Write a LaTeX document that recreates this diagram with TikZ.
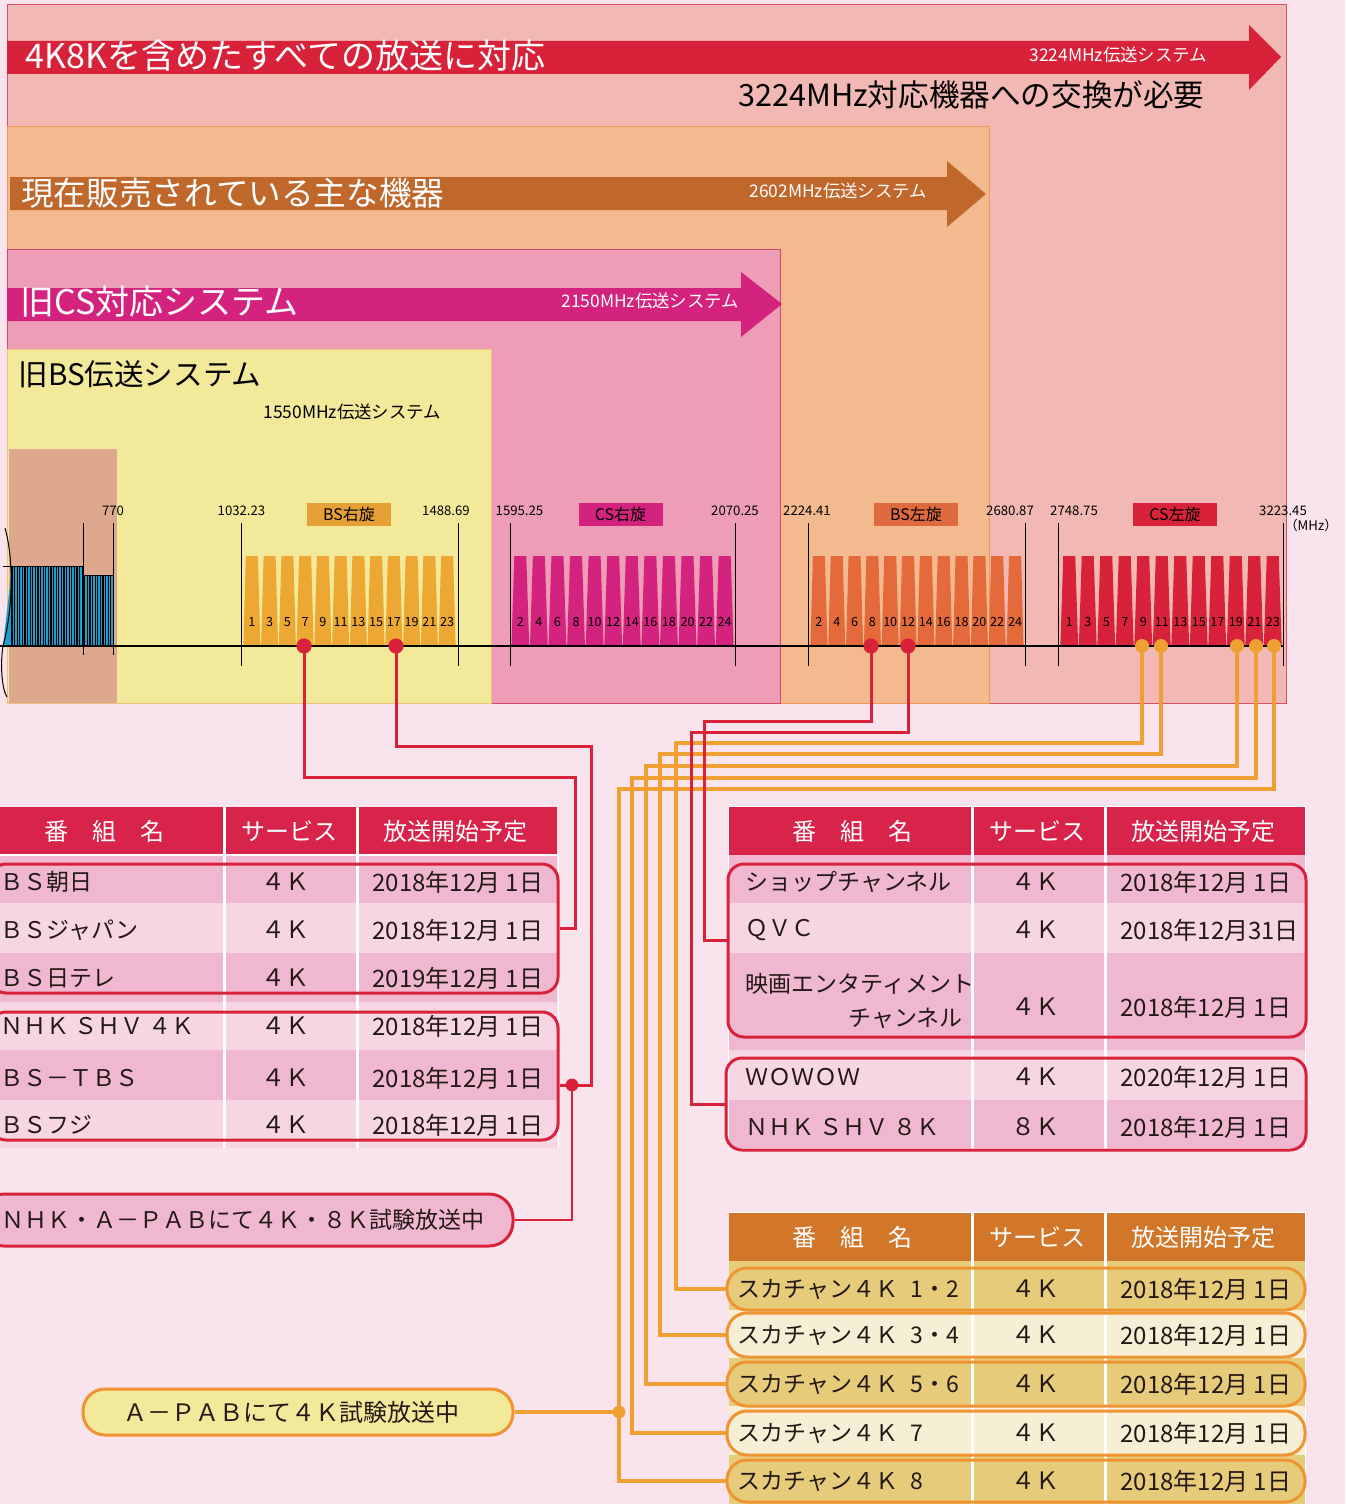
\documentclass[tikz,border=0pt]{standalone}
\usepackage{fontspec}
\setmainfont{Noto Sans CJK JP}
\usetikzlibrary{fit,calc}
\definecolor{bgp}{HTML}{F9E3EC}
\definecolor{outerf}{HTML}{F2B8B4}
\definecolor{outerd}{HTML}{D4506E}
\definecolor{orgf}{HTML}{F2BA8E}
\definecolor{orgd}{HTML}{EE9A55}
\definecolor{pinkf}{HTML}{ED9DB5}
\definecolor{pinkd}{HTML}{D84566}
\definecolor{yelf}{HTML}{F2EA9A}
\definecolor{yeld}{HTML}{ECC47C}
\definecolor{brnf}{HTML}{DEA88E}
\definecolor{redA}{HTML}{D8223A}
\definecolor{brnA}{HTML}{C0672C}
\definecolor{magA}{HTML}{D4237F}
\definecolor{bsrC}{HTML}{EDA733}
\definecolor{bsrL}{HTML}{E6A035}
\definecolor{bslC}{HTML}{E46A3C}
\definecolor{bslL}{HTML}{E06A40}
\definecolor{blueC}{HTML}{1E9FD0}
\definecolor{hdrR}{HTML}{D8234A}
\definecolor{hdrO}{HTML}{D2762A}
\definecolor{rowD}{HTML}{F0B8D0}
\definecolor{rowL}{HTML}{F7D6E3}
\definecolor{rowG}{HTML}{E5CB7A}
\definecolor{rowC}{HTML}{F7EFD5}
\definecolor{conO}{HTML}{EEA033}
\definecolor{pillO}{HTML}{EE9433}
\definecolor{inkK}{HTML}{231815}
\begin{document}
\begin{tikzpicture}[x=0.5pt,y=-0.5pt,
  every node/.style={inner sep=0pt, text=inkK},
  headW/.style={font=\fontsize{17}{17}\selectfont, text=white, anchor=west},
  headK/.style={font=\fontsize{15.3}{15.3}\selectfont, text=black, anchor=west},
  subW/.style={font=\fontsize{8.7}{8.7}\selectfont, text=white, anchor=west},
  subK/.style={font=\fontsize{8.7}{8.7}\selectfont, text=black, anchor=west},
  freq/.style={font=\fontsize{6.6}{6.6}\selectfont, text=black},
  chnum/.style={font=\fontsize{6.3}{6.3}\selectfont, text=black},
  bandlbl/.style={font=\fontsize{8}{8}\selectfont, text=black, minimum width=42pt, minimum height=11.5pt},
  hdr/.style={font=\fontsize{12}{12}\selectfont, text=white},
  tname/.style={font=\fontsize{11.5}{11.5}\selectfont, anchor=west},
  tdate/.style={font=\fontsize{12}{12}\selectfont, anchor=west},
  tsvc/.style={font=\fontsize{12}{12}\selectfont},
  grpR/.style={draw=redA, line width=1.5pt, rounded corners=8pt, inner sep=0pt},
  grpO/.style={draw=pillO, line width=1.5pt, rounded corners=10pt, inner sep=0pt},
  rline/.style={draw=redA, line width=1.5pt},
  rthin/.style={draw=redA, line width=0.8pt},
  oline/.style={draw=conO, line width=1.7pt},
  sep/.style={draw=white, line width=1.5pt},
  tick/.style={draw=black, line width=0.5pt}
]
\useasboundingbox (0,0) rectangle (1345,1504);
\fill[bgp] (0,0) rectangle (1345,1504);

% ---------- nested system boxes ----------
\filldraw[fill=outerf, draw=outerd, line width=0.5pt] (7,5) rectangle (1286,703);
\filldraw[fill=orgf, draw=orgd, line width=0.5pt] (7,127) rectangle (989,703);
\filldraw[fill=pinkf, draw=pinkd, line width=0.5pt] (7,249) rectangle (780,703);
\filldraw[fill=yelf, draw=yeld, line width=0.5pt] (7,349) rectangle (491,703);
\fill[brnf] (9,449) rectangle (117,703);

% ---------- arrows ----------
\fill[redA] (7,41) -- (1249,41) -- (1249,25) -- (1281,57) -- (1249,90) -- (1249,74) -- (7,74) -- cycle;
\fill[brnA] (10,177) -- (947,177) -- (947,161) -- (986,194) -- (947,227) -- (947,210) -- (10,210) -- cycle;
\fill[magA] (7,288) -- (741,288) -- (741,272) -- (782,304) -- (741,337) -- (741,321) -- (7,321) -- cycle;

\node[headW] (h1) at (25,56) {4K8Kを含めたすべての放送に対応};
\node[subW] (h1s) at (1029,55) {3224MHz伝送システム};
\node[headK] (h1k) at (738,95) {3224MHz対応機器への交換が必要};
\node[headW, font=\fontsize{16.3}{16.3}\selectfont] (h2) at (21,193) {現在販売されている主な機器};
\node[subW] (h2s) at (749,191) {2602MHz伝送システム};
\node[headW] (h3) at (20,302) {旧CS対応システム};
\node[subW] (h3s) at (561,301) {2150MHz伝送システム};
\node[headK, font=\fontsize{14.8}{14.8}\selectfont] (h4) at (18,374) {旧BS伝送システム};
\node[subK] (h4s) at (263,412) {1550MHz伝送システム};

% ---------- spectrum: terrestrial block ----------
\fill[blueC] (3,646) -- (12,566) -- (83,566) -- (83,575) -- (113,575) -- (113,646) -- cycle;
\foreach \x in {12,14.6,...,112} {
  \pgfmathsetmacro\tp{\x<83 ? 566 : 575}
  \draw[black, line width=0.55pt] (\x,\tp) -- (\x,646);
}
\draw[black, line width=0.5pt] (3,566) -- (83,566) -- (83,575) -- (113,575);
\draw[black, line width=0.5pt] (5,528) .. controls (14,560) and (13,610) .. (3,646);
\draw[black, line width=0.5pt] (3,646) .. controls (0,665) and (2,690) .. (7,697);

% ---------- channel bars ----------
\foreach \xa/\p/\col/\first/\hw in {243/17.75/bsrC/1/8.5, 511/18.58/magA/2/8.9, 810/17.83/bslC/2/8.5, 1060/18.5/redA/1/8.9} {
  \foreach \i in {0,...,11} {
    \pgfmathsetmacro\c{\xa+\p*(\i+0.5)}
    \pgfmathtruncatemacro\n{\first+2*\i}
    \fill[\col] (\c-6,556) -- (\c+6,556) -- (\c+\hw,646) -- (\c-\hw,646) -- cycle;
    \node[chnum] at (\c,622) {\n};
  }
}

% ---------- band labels ----------
\node[bandlbl, fill=bsrL] (lbsr) at (349,514.5) {BS右旋};
\node[bandlbl, fill=magA] (lcsr) at (620.5,514.5) {CS右旋};
\node[bandlbl, fill=bslL] (lbsl) at (916,514.5) {BS左旋};
\node[bandlbl, fill=redA] (lcsl) at (1175,514.5) {CS左旋};

% ---------- ticks and frequencies ----------
\draw[tick] (83,523) -- (83,655);
\draw[tick] (113,523) -- (113,655);
\foreach \x in {241,458,510,735,808,1025,1058,1283} { \draw[tick] (\x,523) -- (\x,666); }
\draw[black, line width=0.6pt] (0,646) -- (1283,646);
\node[freq] (f0) at (113,511) {770};
\node[freq] (f1) at (241.5,511) {1032.23};
\node[freq] (f2) at (446,511) {1488.69};
\node[freq] (f3) at (519.5,511) {1595.25};
\node[freq] (f4) at (735,511) {2070.25};
\node[freq] (f5) at (807,511) {2224.41};
\node[freq] (f6) at (1010,511) {2680.87};
\node[freq] (f7) at (1074,511) {2748.75};
\node[freq] (f8) at (1283,511) {3223.45};
\node[freq] (fu) at (1311,525) {（MHz）};

% ---------- left table ----------
\fill[hdrR] (0,807) rectangle (557,855);
\fill[rowD] (0,855) rectangle (557,903);
\fill[rowL] (0,903) rectangle (557,953);
\fill[rowD] (0,953) rectangle (557,1002);
\fill[rowL] (0,1002) rectangle (557,1050);
\fill[rowD] (0,1050) rectangle (557,1100);
\fill[rowL] (0,1100) rectangle (557,1148);
\draw[sep] (224.5,807) -- (224.5,1148);
\draw[sep] (357,807) -- (357,1148);
\draw[white, line width=0.6pt] (0,855) -- (558.5,855) -- (558.5,1148);
\node[hdr] (lh1) at (104,831) {番　組　名};
\node[hdr] (lh2) at (289,831) {サービス};
\node[hdr] (lh3) at (455,831) {放送開始予定};
\foreach \y/\nm/\dt [count=\k] in {882/ＢＳ朝日/2018年12月 1日, 930/ＢＳジャパン/2018年12月 1日, 978/ＢＳ日テレ/2019年12月 1日, 1026/ＮＨＫ ＳＨＶ ４Ｋ/2018年12月 1日, 1078/ＢＳ－ＴＢＳ/2018年12月 1日, 1125/ＢＳフジ/2018年12月 1日} {
  \node[tname] (ln\k) at (0,\y) {\nm};
  \node[tsvc] (ls\k) at (285,\y) {４Ｋ};
  \node[tdate] (ld\k) at (372,\y) {\dt};
}
\node[grpR, fit={(-10,864) (558,993)}] (g1) {};
\node[grpR, fit={(-10,1012) (558,1140)}] (g2) {};

% ---------- right table ----------
\fill[hdrR] (729,807) rectangle (1305,855);
\fill[rowD] (729,855) rectangle (1305,903);
\fill[rowL] (729,903) rectangle (1305,953);
\fill[rowD] (729,953) rectangle (1305,1050);
\fill[rowL] (729,1050) rectangle (1305,1100);
\fill[rowD] (729,1100) rectangle (1305,1148);
\draw[sep] (972.5,807) -- (972.5,1148);
\draw[sep] (1105,807) -- (1105,1148);
\draw[white, line width=0.6pt] (728.5,806.5) rectangle (1305.5,1148.5);
\node[hdr] (rh1) at (852,831) {番　組　名};
\node[hdr] (rh2) at (1037,831) {サービス};
\node[hdr] (rh3) at (1203,831) {放送開始予定};
\node[tname] (rn1) at (745,882) {ショップチャンネル};
\node[tsvc] (rs1) at (1035,882) {４Ｋ};
\node[tdate] (rd1) at (1120,882) {2018年12月 1日};
\node[tname] (rn2) at (745,930) {ＱＶＣ};
\node[tsvc] (rs2) at (1035,930) {４Ｋ};
\node[tdate] (rd2) at (1120,930) {2018年12月31日};
\node[tname] (rn3) at (745,984) {映画エンタティメント};
\node[tname, anchor=east] (rn3b) at (963,1018) {チャンネル};
\node[tsvc] (rs3) at (1035,1007) {４Ｋ};
\node[tdate] (rd3) at (1120,1007) {2018年12月 1日};
\node[tname] (rn4) at (745,1077) {ＷＯＷＯＷ};
\node[tsvc] (rs4) at (1035,1077) {４Ｋ};
\node[tdate] (rd4) at (1120,1077) {2020年12月 1日};
\node[tname] (rn5) at (745,1127) {ＮＨＫ ＳＨＶ ８Ｋ};
\node[tsvc] (rs5) at (1035,1127) {８Ｋ};
\node[tdate] (rd5) at (1120,1127) {2018年12月 1日};
\node[grpR, fit={(728,864) (1306,1037)}] (rg1) {};
\node[grpR, fit={(726,1058) (1306,1150)}] (rg2) {};

% ---------- bottom table ----------
\fill[hdrO] (729,1213) rectangle (1305,1261);
\fill[rowG] (729,1261) rectangle (1305,1310);
\fill[rowC] (729,1310) rectangle (1305,1358);
\fill[rowG] (729,1358) rectangle (1305,1406);
\fill[rowC] (729,1406) rectangle (1305,1455);
\fill[rowG] (729,1455) rectangle (1305,1504);
\draw[sep] (972.5,1213) -- (972.5,1504);
\draw[sep] (1105,1213) -- (1105,1504);
\draw[white, line width=0.6pt] (728.5,1212.5) -- (1305.5,1212.5) -- (1305.5,1504);
\node[hdr] (bh1) at (852,1237) {番　組　名};
\node[hdr] (bh2) at (1037,1237) {サービス};
\node[hdr] (bh3) at (1203,1237) {放送開始予定};
\foreach \ya/\yb/\nm [count=\k] in {1268/1310/1・2, 1313/1357/3・4, 1362/1406/5・6, 1411/1455/7, 1460/1502/8} {
  \pgfmathsetmacro\ym{(\ya+\yb)/2}
  \node[tname] (bn\k) at (737,\ym) {スカチャン４Ｋ\hspace{0.55em}\nm};
  \node[tsvc] (bs\k) at (1035,\ym) {４Ｋ};
  \node[tdate] (bd\k) at (1120,\ym) {2018年12月 1日};
  \node[grpO, fit={(727,\ya) (1305,\yb)}] (sk\k) {};
}

% ---------- note pills ----------
\node[draw=redA, fill=rowD, line width=1.5pt, rounded corners=12pt, fit={(-20,1194) (513,1246)}] (nhk) {};
\node[tname] (nhkt) at (1,1220) {ＮＨＫ・Ａ－ＰＡＢにて４Ｋ・８Ｋ試験放送中};
\node[draw=pillO, fill=yelf, line width=1.5pt, rounded corners=11pt, fit={(83,1389) (513,1435)}] (apab) {};
\node[tname, anchor=center, font=\fontsize{12}{12}\selectfont] (apabt) at (291,1412) {Ａ－ＰＡＢにて４Ｋ試験放送中};

% ---------- connectors ----------
\coordinate (bsr7) at (304,646);
\coordinate (bsr17) at (396,646);
\coordinate (bsl8) at (871,646);
\coordinate (bsl12) at (908,646);
\coordinate (csl9) at (1142,646);
\coordinate (csl11) at (1161,646);
\coordinate (csl19) at (1237,646);
\coordinate (csl21) at (1256,646);
\coordinate (csl23) at (1274,646);
\coordinate (jR) at (572,1085);
\coordinate (jO) at (619,1412);
\coordinate (rg1in) at ($(rg1.west)+(0,-10)$);

\draw[oline] (csl9) |- (676,743) |- (sk1.west);
\draw[oline] (csl11) |- (660,754) |- (sk2.west);
\draw[oline] (csl19) |- (646,766) |- (sk3.west);
\draw[oline] (csl21) |- (632,778) |- (sk4.west);
\draw[oline] (csl23) |- (619,789) |- (sk5.west);
\draw[oline] (jO) -- (apab.east);

\draw[rline] (bsr7) |- (575,777) |- (g1.east);
\draw[rline] (bsr17) |- (591,746) |- (jR);
\draw[rline] (jR) -- (jR -| g2.east);
\draw[rthin] (jR) |- (nhk.east);
\draw[rline] (bsl8) |- (704,721) |- (rg1in);
\draw[rline] (bsl12) |- (691,732) |- (rg2.west);

% ---------- dots ----------
\foreach \d in {bsr7,bsr17,bsl8,bsl12} { \fill[redA] (\d) circle (3.8pt); }
\foreach \d in {csl9,csl11,csl19,csl21,csl23} { \fill[conO] (\d) circle (3.5pt); }
\fill[redA] (jR) circle (3.2pt);
\fill[conO] (jO) circle (3.2pt);
\end{tikzpicture}
\end{document}
